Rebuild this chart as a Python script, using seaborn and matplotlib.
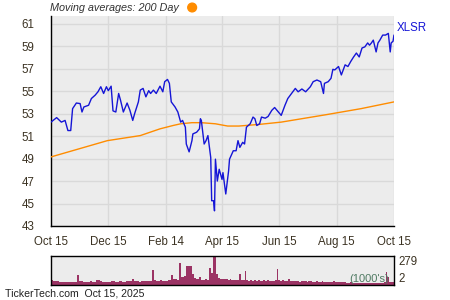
import numpy as np
import pandas as pd
import matplotlib
matplotlib.use("Agg")
import matplotlib.pyplot as plt
import matplotlib.dates as mdates
import seaborn as sns

# ---------------- data ----------------
start_date = "2024-10-15"
price_day = [0, 6, 11, 15, 18, 21, 23, 27, 31, 33, 35, 40, 43, 47, 50, 53, 56, 59, 61, 64,
             66, 69, 72, 74, 77, 81, 84, 87, 89, 93, 95, 98, 101, 104, 106, 109, 112, 116, 119, 121,
             124, 126, 128, 132, 135, 138, 140, 143, 144, 147, 150, 151, 155, 158, 159, 160, 163, 165, 167, 170,
             171, 173, 174, 175, 177, 179, 182, 183, 186, 189, 190, 194, 197, 199, 201, 204, 206, 208, 212, 215,
             217, 219, 222, 224, 228, 231, 235, 238, 242, 245, 249, 252, 256, 260, 263, 267, 271, 276, 279, 283,
             287, 290, 291, 295, 298, 300, 302, 306, 309, 313, 316, 319, 322, 325, 328, 331, 334, 337, 339, 341,
             343, 346, 348, 350, 353, 356, 359, 361, 362, 364, 365]
price = [52.25, 52.65, 52.25, 52.4, 51.5, 51.5, 53.45, 53.95, 53.9, 53.15, 53.6, 53.75, 54.35, 54.65, 54.95, 55.4, 54.8, 55.4, 55.05, 55.45,
         53.25, 53.15, 54.8, 54.2, 53.15, 53.95, 53.3, 52.4, 53.0, 54.05, 55.1, 55.25, 54.5, 55.05, 54.8, 55.1, 54.8, 55.45, 54.95, 55.85,
         56.05, 55.7, 54.05, 53.6, 53.15, 52.25, 52.4, 51.8, 50.3, 49.6, 50.6, 51.2, 51.35, 51.65, 52.55, 52.4, 50.3, 50.6, 51.05, 49.1,
         45.25, 45.25, 44.35, 48.95, 47.0, 48.05, 47.15, 47.75, 45.85, 47.9, 48.95, 49.7, 49.7, 50.6, 50.0, 50.45, 50.3, 51.8, 52.1, 52.7,
         52.55, 51.95, 52.1, 52.7, 52.6, 52.75, 53.3, 53.55, 53.15, 52.85, 53.75, 54.35, 54.8, 55.25, 54.95, 55.2, 54.95, 55.4, 55.85, 56.0,
         55.85, 54.8, 55.7, 55.85, 56.15, 56.95, 56.9, 57.2, 56.45, 57.35, 57.2, 57.65, 58.05, 58.4, 58.05, 58.85, 58.95, 59.3, 59.1, 59.3,
         59.55, 58.5, 59.3, 59.55, 60.0, 60.0, 60.15, 58.5, 59.3, 59.45, 60.0]

ma_day = [0, 60, 95, 116, 130, 138, 150, 160, 175, 188, 200, 222, 245, 292, 330, 365]
ma200 = [49.15, 50.6, 51.05, 51.65, 51.95, 52.1, 52.2, 52.2, 52.1, 51.9, 51.9, 52.05, 52.25, 52.9, 53.45, 54.05]

vol_day = list(range(0, 366, 2))
volume = [45, 38, 40, 35, 30, 32, 28, 30, 33, 28, 30, 27, 32, 30, 100, 40, 35, 30, 33, 28,
          30, 35, 30, 27, 45, 50, 38, 32, 30, 28, 33, 30, 35, 40, 32, 30, 35, 38, 33, 30,
          36, 40, 35, 62, 42, 35, 38, 33, 36, 40, 35, 38, 42, 36, 143, 45, 40, 38, 44, 40,
          42, 38, 45, 48, 100, 55, 60, 52, 214, 80, 75, 85, 181, 181, 181, 110, 65, 60, 55, 78,
          52, 48, 55, 50, 159, 120, 279, 279, 110, 70, 60, 55, 62, 58, 50, 55, 48, 52, 45, 50,
          110, 48, 45, 133, 50, 42, 45, 40, 48, 42, 45, 40, 38, 44, 40, 46, 40, 42, 38, 45,
          152, 50, 42, 45, 40, 38, 60, 42, 38, 40, 35, 38, 33, 36, 40, 34, 32, 38, 35, 30,
          33, 36, 32, 30, 34, 30, 28, 32, 30, 27, 40, 30, 28, 32, 27, 25, 28, 24, 22, 25,
          20, 22, 18, 20, 22, 18, 20, 17, 19, 22, 18, 20, 16, 18, 20, 17, 22, 25, 126, 80,
          30, 28, 32]

major_ticks = ["2024-10-15", "2024-12-15", "2025-02-14", "2025-04-15", "2025-06-15", "2025-08-15", "2025-10-15"]
major_labels = ["Oct 15", "Dec 15", "Feb 14", "Apr 15", "Jun 15", "Aug 15", "Oct 15"]
minor_ticks = ["2024-11-15", "2025-01-15", "2025-03-15", "2025-05-15", "2025-07-15", "2025-09-15"]
y_labels = [43, 45, 47, 49, 51, 53, 55, 57, 59, 61]
ticker = "XLSR"

# ---------------- build frames ----------------
base = pd.Timestamp(start_date)
df_price = pd.DataFrame({"date": base + pd.to_timedelta(price_day, unit="D"), "close": price})
df_ma = pd.DataFrame({"date": base + pd.to_timedelta(ma_day, unit="D"), "ma": ma200})
df_vol = pd.DataFrame({"date": base + pd.to_timedelta(vol_day, unit="D"), "vol": volume})

sns.set_style("white")
plt.rcParams["font.family"] = ["Liberation Sans", "DejaVu Sans"]

TXT = "#3b3222"
BG = "#ececec"
GRID = "#d9d9d9"

fig = plt.figure(figsize=(4.5, 3.0), dpi=100)
ax = fig.add_axes([0.1133, 0.2467, 0.7622, 0.70])
axv = fig.add_axes([0.1133, 0.05, 0.7622, 0.0967])

# main panel
ax.set_facecolor(BG)
sns.lineplot(data=df_ma, x="date", y="ma", ax=ax, color="#ff8c00", lw=1.0, zorder=3)
sns.lineplot(data=df_price, x="date", y="close", ax=ax, color="#1515d6", lw=1.0, zorder=4)

xmin, xmax = pd.Timestamp(major_ticks[0]), pd.Timestamp(major_ticks[-1])
ax.set_xlim(xmin, xmax)
ax.set_ylim(43, 61.7)
ax.set_xticks(pd.to_datetime(major_ticks))
ax.set_xticklabels(major_labels)
ax.set_xticks(pd.to_datetime(minor_ticks), minor=True)
ax.set_yticks(y_labels)
ax.set_yticklabels([str(v) for v in y_labels])
ax.set_yticks(np.arange(44, 62, 2), minor=True)
ax.grid(True, which="major", color=GRID, lw=1.0)
ax.set_axisbelow(True)
ax.set_xlabel("")
ax.set_ylabel("")
for s in ["top", "right"]:
    ax.spines[s].set_visible(False)
for s in ["left", "bottom"]:
    ax.spines[s].set_color("black")
    ax.spines[s].set_linewidth(1.0)
ax.tick_params(axis="both", which="both", direction="out", color="black", labelcolor=TXT,
               labelsize=8.3, width=1.0)
ax.tick_params(axis="both", which="major", length=4)
ax.tick_params(axis="both", which="minor", length=4)
ax.tick_params(axis="x", pad=3)
ax.tick_params(axis="y", pad=8)
ax.text(1.008, 0.945, ticker, transform=ax.transAxes, color="#1515d6", fontsize=8.3,
        va="center", ha="left")

# title
fig.text(0.111, 0.972, "Moving averages: 200 Day", fontsize=7.8, style="italic",
         color="#333333", ha="left", va="center")
fig.patches.append(matplotlib.patches.Ellipse((0.427, 0.975), 0.0195, 0.029,
                   transform=fig.transFigure, color="#ff8c00", figure=fig))

# volume panel
axv.set_facecolor(BG)
axv.bar(df_vol["date"], df_vol["vol"], width=2.0, color="#9b3364", align="edge", lw=0)
axv.set_xlim(xmin, xmax)
axv.set_ylim(0, 279)
axv.set_xticks([])
axv.yaxis.tick_right()
axv.set_yticks([2, 279])
axv.set_yticklabels(["2", "279"])
axv.tick_params(axis="y", length=0, labelsize=8.3, labelcolor=TXT, pad=3)
labs = axv.get_yticklabels()
labs[0].set_va("bottom")
labs[1].set_va("top")
for s in axv.spines.values():
    s.set_color("black")
    s.set_linewidth(1.0)
axv.text(0.985, 0.05, "(1000's)", transform=axv.transAxes, ha="right", va="bottom",
         fontsize=8.0, color="#4f7a62")

fig.text(0.011, 0.022, "TickerTech.com  Oct 15, 2025", fontsize=7.6, color="#222222",
         ha="left", va="center")

fig.savefig("out.png", dpi=100)
